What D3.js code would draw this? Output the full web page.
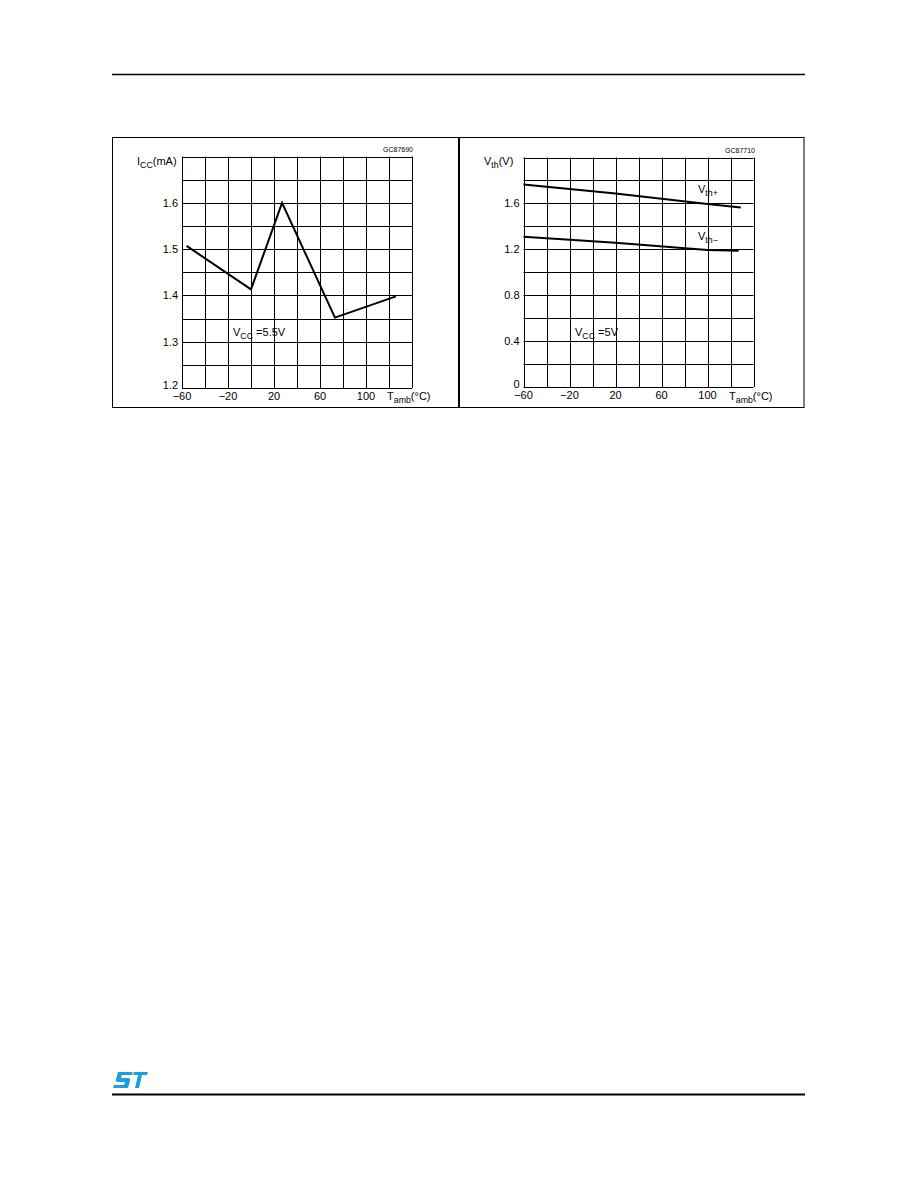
<!DOCTYPE html>
<html><head><meta charset="utf-8">
<script src="https://cdn.jsdelivr.net/npm/d3@7"></script>
<style>body{margin:0;background:#fff}svg{display:block}text{font-family:"Liberation Sans",Arial,sans-serif;fill:#000}</style>
</head><body>
<script>
// ---- data ----
const xTicks = [-60, -20, 20, 60, 100];
const iccTicks = [1.2, 1.3, 1.4, 1.5, 1.6];
const vthTicks = [0, 0.4, 0.8, 1.2, 1.6];
const iccT = [-56, 0, 27, 73, 126];
const iccVal = [1.507, 1.413, 1.600, 1.352, 1.398];
const vthPlusT = [-60, 20, 100, 129];
const vthPlusVal = [1.765, 1.687, 1.594, 1.565];
const vthMinusT = [-60, 20, 100, 127];
const vthMinusVal = [1.310, 1.258, 1.194, 1.188];

const W = 918, H = 1188;
const svg = d3.select("body").append("svg").attr("width", W).attr("height", H);

// page decoration
svg.append("line").attr("x1",112).attr("x2",805).attr("y1",74.5).attr("y2",74.5).attr("stroke","#000").attr("stroke-width",1.5);
svg.append("line").attr("x1",112).attr("x2",805).attr("y1",1094.5).attr("y2",1094.5).attr("stroke","#000").attr("stroke-width",2);
// ST logo (approximate)
const logo = svg.append("g").attr("fill","#1aa0dc");
logo.append("path").attr("d","M118,1072 L133,1072 L132,1075 L122,1075 L121,1078 L128,1078 Q131,1078 130,1081 L128,1088 L113,1088 L114,1085 L124,1085 L125,1082 L118,1082 Q115,1082 116,1079 Z");
logo.append("path").attr("d","M134,1072 L148,1072 L147,1075 L142,1075 L139,1088 L135,1088 L138,1075 L133,1075 Z");

// outer frame
svg.append("rect").attr("x",112.5).attr("y",137.5).attr("width",691.5).attr("height",270).attr("fill","none").attr("stroke","#000").attr("stroke-width",1);
svg.append("line").attr("x1",459).attr("x2",459).attr("y1",137.5).attr("y2",407.5).attr("stroke","#000").attr("stroke-width",2);

function panel(opts){
  const g = svg.append("g");
  const x = d3.scaleLinear().domain([-60,140]).range([opts.left, opts.right]);
  const y = d3.scaleLinear().domain(opts.ydom).range([opts.bottom, opts.top]);
  // grid
  const xs = d3.range(-60, 141, 20);
  const ys = d3.range(0, 11).map(i => opts.ydom[0] + i*(opts.ydom[1]-opts.ydom[0])/10);
  g.selectAll(".vg").data(xs).join("line")
    .attr("x1", d=>Math.round(x(d))+0.5).attr("x2", d=>Math.round(x(d))+0.5)
    .attr("y1", y(opts.ydom[0])).attr("y2", y(opts.ydom[1]))
    .attr("stroke","#000").attr("stroke-width",1);
  g.selectAll(".hg").data(ys).join("line")
    .attr("y1", d=>Math.round(y(d))+0.5).attr("y2", d=>Math.round(y(d))+0.5)
    .attr("x1", x(-60)).attr("x2", x(140))
    .attr("stroke","#000").attr("stroke-width",1);
  // tick labels
  g.selectAll(".yt").data(opts.yticks).join("text")
    .attr("x", opts.left-4).attr("y", d=>y(d)+ (d===opts.ydom[0] ? 1 : 4))
    .attr("text-anchor","end").attr("font-size",11).text(opts.yfmt);
  g.selectAll(".xt").data(xTicks).join("text")
    .attr("x", d=>x(d)).attr("y", opts.bottom+12)
    .attr("text-anchor","middle").attr("font-size",11).text(d=> d<0 ? "\u2212"+Math.abs(d) : d);
  // series
  const line = d3.line().x(d=>x(d[0])).y(d=>y(d[1]));
  opts.series.forEach(s=>{
    g.append("path").attr("d", line(d3.zip(s.t, s.v))).attr("fill","none")
      .attr("stroke","#000").attr("stroke-width",2).attr("stroke-linejoin","miter");
  });
  return {g,x,y};
}

function sub(g, x, y, main, subs, size, anchor){
  const t = g.append("text").attr("x",x).attr("y",y).attr("font-size",size).attr("text-anchor",anchor||"start");
  t.append("tspan").text(main);
  t.append("tspan").attr("font-size",size*0.8).attr("dy",3).text(subs[0]);
  if (subs[1]) t.append("tspan").attr("dy",-3).text(subs[1]);
  return t;
}

// left panel
const L = panel({left:182, right:412, top:156.5, bottom:388, ydom:[1.2,1.7],
  yticks: iccTicks, yfmt: d=>d.toFixed(1),
  series:[{t:iccT, v:iccVal}]});
sub(L.g, 137, 165, "I", ["CC", "(mA)"], 11);
L.g.append("text").attr("x",413).attr("y",152).attr("font-size",7).attr("text-anchor","end").text("GC87690");
sub(L.g, 387, 400, "T", ["amb", "(°C)"], 11);
sub(L.g, 233, 336, "V", ["CC", " =5.5V"], 11);

// right panel
const R = panel({left:523.5, right:753.5, top:157.5, bottom:387, ydom:[0,2.0],
  yticks: vthTicks, yfmt: d=> d===0 ? "0" : d.toFixed(1),
  series:[{t:vthPlusT, v:vthPlusVal},{t:vthMinusT, v:vthMinusVal}]});
sub(R.g, 484, 165, "V", ["th", "(V)"], 11);
R.g.append("text").attr("x",755).attr("y",153).attr("font-size",7).attr("text-anchor","end").text("GC87710");
sub(R.g, 729, 400, "T", ["amb", "(°C)"], 11);
sub(R.g, 575, 336, "V", ["CC", " =5V"], 11);
sub(R.g, 698, 193, "V", ["th+"], 11);
sub(R.g, 698, 240, "V", ["th\u2212"], 11);
</script>
</body></html>
